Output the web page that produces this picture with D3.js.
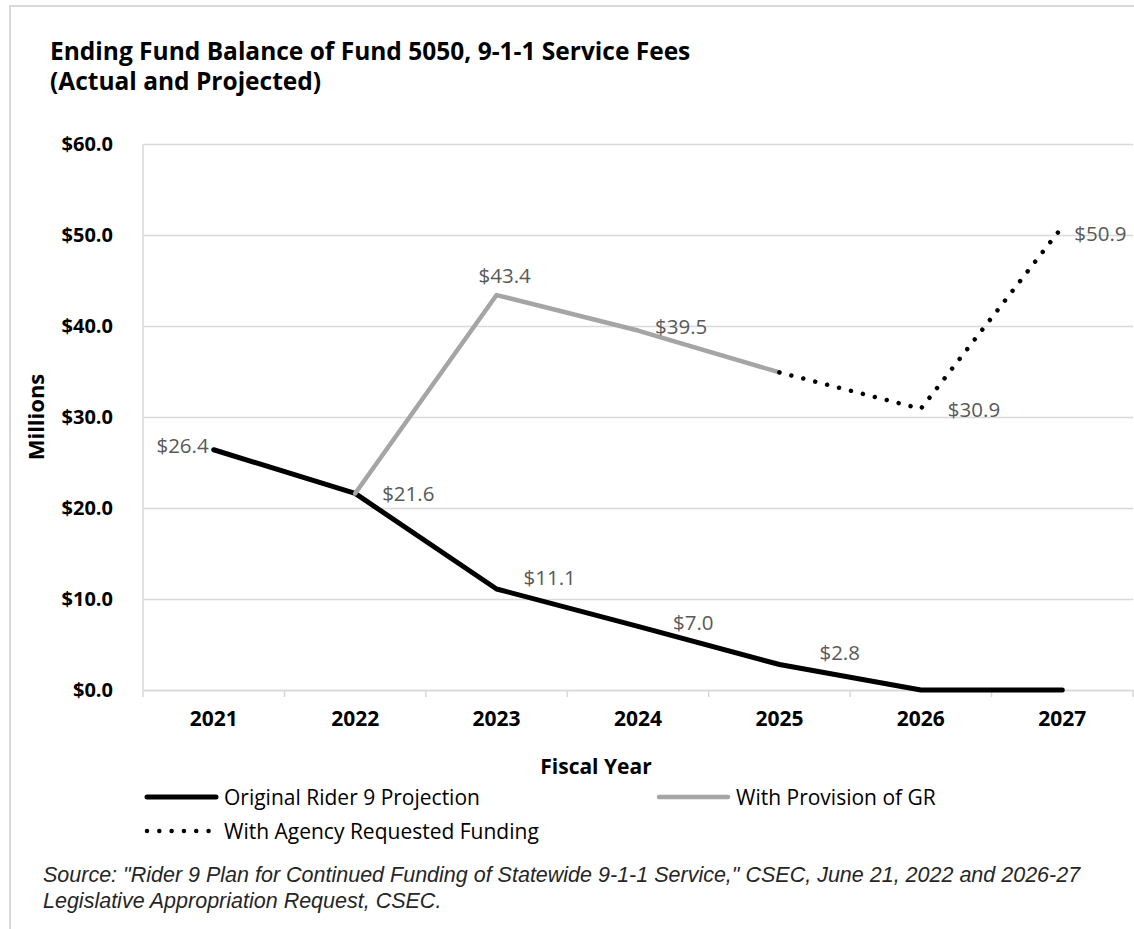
<!DOCTYPE html>
<html>
<head>
<meta charset="utf-8">
<script src="https://cdn.jsdelivr.net/npm/d3@7"></script>
<style>
  html, body { margin: 0; padding: 0; background: #fff; }
  svg { display: block; font-family: "Open Sans", sans-serif; }
</style>
</head>
<body>
<svg id="chart" width="1134" height="929"></svg>
<script>
// chart values
const years = ["2021", "2022", "2023", "2024", "2025", "2026", "2027"];
const originalRider9 = [26.4, 21.6, 11.1, 7.0, 2.8, 0, 0];
const withProvisionGR = [null, 21.6, 43.4, 39.5, 34.9, null, null];
const withAgencyFunding = [null, null, null, null, 34.9, 30.9, 50.9];
const yTicks = [0, 10, 20, 30, 40, 50, 60];
const titleLines = ["Ending Fund Balance of Fund 5050, 9-1-1 Service Fees", "(Actual and Projected)"];
const sourceLines = [
  "Source: \"Rider 9 Plan for Continued Funding of Statewide 9-1-1 Service,\" CSEC, June 21, 2022 and 2026-27",
  "Legislative Appropriation Request, CSEC."
];

// which points carry a data label, and where the label sits (dx, dy from point)
const labelLayout = {
  original: [[-5, -5, "end"], [27, 0], [27, -12], [35, -4], [40, -13], null, null],
  gr: [null, null, [-18, -20], [17, -5], null, null, null],
  agency: [null, null, null, null, null, [27, 0], [12, 6]]
};

const svg = d3.select("#chart");
const plotL = 143, plotR = 1133, plotT = 144, plotB = 690;

const x = d3.scaleBand().domain(years).range([plotL, plotR]).paddingInner(0).paddingOuter(0);
const cx = d => x(d) + x.bandwidth() / 2;
const y = d3.scaleLinear().domain([0, 60]).range([plotB, plotT]);
const fmt = d3.format("$.1f");

// outer frame
svg.append("rect")
  .attr("x", 10).attr("y", 6)
  .attr("width", 1140).attr("height", 940)
  .attr("fill", "none").attr("stroke", "#d9d9d9").attr("stroke-width", 2);

// title
svg.append("g").selectAll("text")
  .data(titleLines).enter().append("text")
  .attr("x", 50).attr("y", (d, i) => 60 + i * 30)
  .attr("font-size", 24.5).attr("font-weight", "bold").attr("fill", "#000")
  .text(d => d);

// gridlines + y labels
const yAxis = d3.axisLeft(y).tickValues(yTicks).tickFormat(fmt)
  .tickSize(-(plotR - plotL)).tickPadding(30);
const gy = svg.append("g").attr("transform", `translate(${plotL},0)`).call(yAxis);
gy.select(".domain").remove();
gy.selectAll(".tick line").attr("stroke", "#d9d9d9").attr("stroke-width", 1.5);
gy.selectAll(".tick text")
  .attr("font-size", 20).attr("font-weight", "bold").attr("fill", "#000")
  .attr("font-family", "Open Sans, sans-serif");

// left axis line
svg.append("line")
  .attr("x1", plotL).attr("x2", plotL).attr("y1", plotT).attr("y2", plotB)
  .attr("stroke", "#d9d9d9").attr("stroke-width", 1.5);

// x axis
const xAxis = d3.axisBottom(x).tickSize(0).tickPadding(21);
const gx = svg.append("g").attr("transform", `translate(0,${plotB})`).call(xAxis);
gx.select(".domain").attr("stroke", "#d9d9d9").attr("stroke-width", 1.5);
gx.selectAll(".tick text")
  .attr("font-size", 21).attr("font-weight", "bold").attr("fill", "#000")
  .attr("font-family", "Open Sans, sans-serif");

// category boundary ticks
const edges = years.map(d => x(d)).concat([x(years[years.length - 1]) + x.bandwidth()]);
svg.append("g").selectAll("line")
  .data(edges).enter().append("line")
  .attr("x1", d => d).attr("x2", d => d)
  .attr("y1", plotB).attr("y2", plotB + 7)
  .attr("stroke", "#d9d9d9").attr("stroke-width", 1.5);

// axis titles
svg.append("text")
  .attr("x", 596).attr("y", 766).attr("text-anchor", "middle").attr("dominant-baseline", "central")
  .attr("font-size", 21).attr("font-weight", "bold").attr("fill", "#000")
  .text("Fiscal Year");

svg.append("text")
  .attr("transform", "translate(35,417) rotate(-90)")
  .attr("text-anchor", "middle").attr("dominant-baseline", "central")
  .attr("font-size", 22).attr("font-weight", "bold").attr("fill", "#000")
  .text("Millions");

// series
const line = d3.line()
  .defined(d => d.v !== null)
  .x(d => cx(d.year))
  .y(d => y(d.v));

const series = [
  { key: "original", name: "Original Rider 9 Projection", values: originalRider9, color: "#000", width: 5, dash: null },
  { key: "gr", name: "With Provision of GR", values: withProvisionGR, color: "#a5a5a5", width: 4.5, dash: null },
  { key: "agency", name: "With Agency Requested Funding", values: withAgencyFunding, color: "#000", width: 4.5, dash: "0.01 12.3" }
];

series.forEach(s => {
  const pts = years.map((yr, i) => ({ year: yr, v: s.values[i] }));
  svg.append("path")
    .datum(pts)
    .attr("d", line)
    .attr("fill", "none")
    .attr("stroke", s.color)
    .attr("stroke-width", s.width)
    .attr("stroke-linejoin", "round")
    .attr("stroke-linecap", "round")
    .attr("stroke-dasharray", s.dash);
});

// data labels
series.forEach(s => {
  const lay = labelLayout[s.key];
  const pts = years.map((yr, i) => ({ year: yr, v: s.values[i], pos: lay[i] }))
    .filter(d => d.v !== null && d.pos);
  svg.append("g").selectAll("text")
    .data(pts).enter().append("text")
    .attr("x", d => cx(d.year) + d.pos[0])
    .attr("y", d => y(d.v) + d.pos[1])
    .attr("text-anchor", d => d.pos[2] || "start")
    .attr("dominant-baseline", "central")
    .attr("font-size", 20.5).attr("fill", "#595959")
    .text(d => fmt(d.v));
});

// legend
const legendPos = [[147, 797], [659, 797], [147, 831]];
const lg = svg.append("g").selectAll("g")
  .data(series).enter().append("g")
  .attr("transform", (d, i) => `translate(${legendPos[i][0]},${legendPos[i][1]})`);
lg.append("line")
  .attr("x1", 0).attr("x2", d => d.dash ? 63 : 69)
  .attr("y1", 0).attr("y2", 0)
  .attr("stroke", d => d.color)
  .attr("stroke-width", d => d.width)
  .attr("stroke-linecap", "round")
  .attr("stroke-dasharray", d => d.dash);
lg.append("text")
  .attr("x", 77).attr("y", 0).attr("dominant-baseline", "central")
  .attr("font-size", 21).attr("fill", "#000")
  .text(d => d.name);

// source note
svg.append("g").selectAll("text")
  .data(sourceLines).enter().append("text")
  .attr("x", 43).attr("y", (d, i) => 875 + i * 26).attr("dominant-baseline", "central")
  .attr("font-family", "Liberation Sans, Arial, sans-serif")
  .attr("font-size", 21.5).attr("font-style", "italic").attr("fill", "#262626")
  .text(d => d);
</script>
</body>
</html>
